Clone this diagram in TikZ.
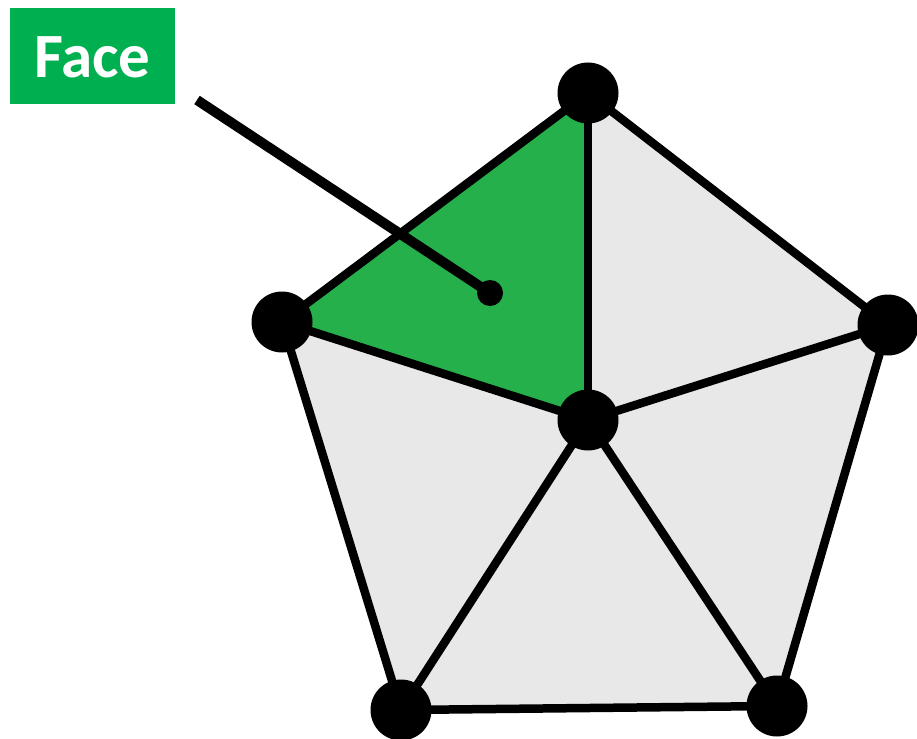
\documentclass[tikz,border=0pt]{standalone}
\usepackage{fontspec}
\setmainfont{Carlito}
\definecolor{facegreen}{HTML}{25B04C}
\definecolor{labelgreen}{HTML}{00B050}
\definecolor{lightgray}{HTML}{E8E8E8}
\tikzset{
  vtx/.style={circle,fill=black,inner sep=0pt,minimum size=61pt},
  edge/.style={line width=8.5pt,line join=round},
  pointer/.style={line width=10pt},
  labelbox/.style={fill=labelgreen,text=white,font=\bfseries\fontsize{63}{70}\selectfont,minimum width=165pt,minimum height=96pt,inner sep=0pt,text height=43pt,text depth=0pt},
}
\begin{document}
\begin{tikzpicture}[x=1pt,y=-1pt]
\useasboundingbox (0,0) rectangle (917,738);
\coordinate (T) at (588,93);
\coordinate (L) at (282,322);
\coordinate (R) at (888,325);
\coordinate (C) at (588,420);
\coordinate (BL) at (401,710);
\coordinate (BR) at (777,706);
\fill[lightgray] (T) -- (R) -- (BR) -- (BL) -- (L) -- cycle;
\fill[facegreen] (T) -- (L) -- (C) -- cycle;
\draw[edge] (T) -- (R) -- (BR) -- (BL) -- (L) -- cycle;
\draw[edge] (C) -- (T);
\draw[edge] (C) -- (L);
\draw[edge] (C) -- (R);
\draw[edge] (C) -- (BL);
\draw[edge] (C) -- (BR);
\foreach \v in {T,L,R,C,BL,BR} \node[vtx] (n\v) at (\v) {};
\node[labelbox] (label) at (92.5,56) {Face};
\coordinate (ps) at (197,100);
\node[circle,fill=black,inner sep=0pt,minimum size=26pt] (dot) at (490,293) {};
\draw[pointer] (ps) -- (dot.center);
\end{tikzpicture}
\end{document}
